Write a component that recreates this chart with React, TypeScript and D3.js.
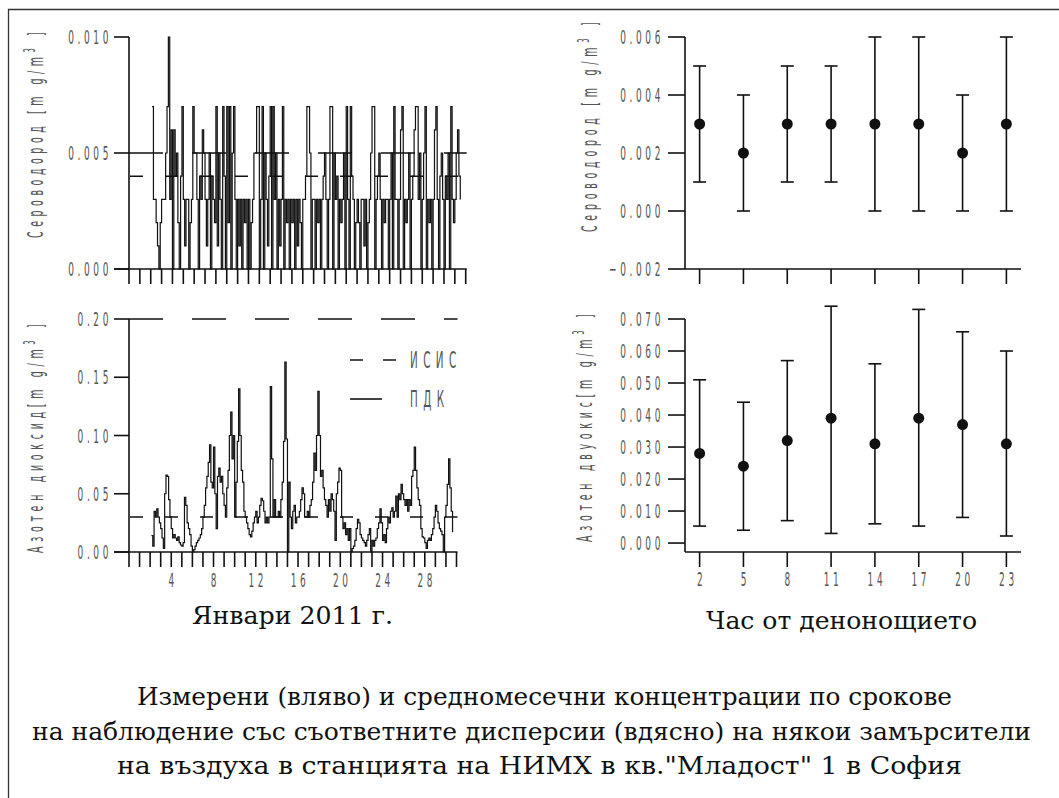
import React from 'react';
import * as d3 from 'd3';

// H2S and NO2, January 2011, 8 readings per day (every 3 h), first reading at day 2.125
const seriesStart = 2.125;
const seriesStep = 0.125;

const h2sValues = [
  0.007, 0.003, 0.003, 0.002, 0.001, 0.000, 0.002,
  0.003, 0.003, 0.003, 0.005, 0.007, 0.010, 0.003, 0.006,
  0.000, 0.006, 0.004, 0.005, 0.002, 0.000, 0.004, 0.007,
  0.003, 0.001, 0.003, 0.003, 0.000, 0.002, 0.003, 0.007,
  0.005, 0.005, 0.003, 0.000, 0.004, 0.003, 0.006, 0.005,
  0.003, 0.001, 0.003, 0.005, 0.000, 0.004, 0.003, 0.002,
  0.007, 0.001, 0.005, 0.003, 0.000, 0.007, 0.004, 0.000,
  0.007, 0.002, 0.007, 0.000, 0.005, 0.007, 0.003, 0.000,
  0.003, 0.001, 0.003, 0.000, 0.003, 0.002, 0.003, 0.000,
  0.003, 0.000, 0.002, 0.003, 0.005, 0.005, 0.007, 0.007,
  0.000, 0.003, 0.007, 0.000, 0.005, 0.003, 0.001, 0.004,
  0.007, 0.000, 0.007, 0.003, 0.005, 0.000, 0.003, 0.001,
  0.003, 0.007, 0.000, 0.003, 0.002, 0.003, 0.000, 0.003,
  0.002, 0.003, 0.000, 0.003, 0.001, 0.003, 0.002, 0.000,
  0.003, 0.003, 0.004, 0.007, 0.007, 0.005, 0.000, 0.003,
  0.003, 0.000, 0.003, 0.002, 0.003, 0.000, 0.003, 0.004,
  0.005, 0.003, 0.000, 0.003, 0.007, 0.007, 0.000, 0.005,
  0.003, 0.004, 0.000, 0.003, 0.002, 0.003, 0.005, 0.000,
  0.007, 0.003, 0.000, 0.007, 0.004, 0.003, 0.000, 0.002,
  0.003, 0.002, 0.000, 0.003, 0.003, 0.001, 0.003, 0.000,
  0.002, 0.003, 0.005, 0.007, 0.007, 0.000, 0.003, 0.004,
  0.005, 0.003, 0.000, 0.003, 0.002, 0.003, 0.003, 0.000,
  0.003, 0.005, 0.000, 0.007, 0.003, 0.003, 0.000, 0.003,
  0.006, 0.007, 0.000, 0.003, 0.002, 0.003, 0.005, 0.000,
  0.003, 0.004, 0.006, 0.007, 0.007, 0.003, 0.005, 0.000,
  0.003, 0.005, 0.007, 0.000, 0.003, 0.002, 0.003, 0.000,
  0.003, 0.006, 0.007, 0.003, 0.000, 0.004, 0.005, 0.003,
  0.000, 0.004, 0.003, 0.005, 0.000, 0.007, 0.003, 0.002,
  0.003, 0.005, 0.006, 0.004, 0.003,
];

const no2Values = [
  0.014, 0.005, 0.035, 0.030, 0.037, 0.030, 0.025,
  0.020, 0.012, 0.003, 0.050, 0.066, 0.065, 0.045, 0.030,
  0.020, 0.012, 0.015, 0.012, 0.010, 0.013, 0.008, 0.006,
  0.005, 0.008, 0.047, 0.040, 0.025, 0.020, 0.015, 0.005,
  0.000, 0.002, 0.005, 0.008, 0.010, 0.012, 0.015, 0.020,
  0.030, 0.040, 0.055, 0.065, 0.077, 0.092, 0.060, 0.055,
  0.090, 0.050, 0.020, 0.065, 0.072, 0.060, 0.065, 0.050,
  0.040, 0.030, 0.055, 0.070, 0.100, 0.120, 0.080, 0.100,
  0.030, 0.060, 0.095, 0.140, 0.100, 0.070, 0.060, 0.035,
  0.030, 0.025, 0.020, 0.015, 0.013, 0.018, 0.025, 0.030,
  0.035, 0.025, 0.030, 0.040, 0.046, 0.044, 0.035, 0.025,
  0.030, 0.025, 0.030, 0.142, 0.080, 0.030, 0.045, 0.030,
  0.030, 0.035, 0.030, 0.045, 0.060, 0.095, 0.163, 0.097,
  0.000, 0.060, 0.030, 0.020, 0.035, 0.040, 0.025, 0.030,
  0.030, 0.035, 0.045, 0.055, 0.050, 0.030, 0.030, 0.035,
  0.030, 0.040, 0.045, 0.060, 0.085, 0.070, 0.100, 0.138,
  0.100, 0.065, 0.070, 0.055, 0.045, 0.040, 0.030, 0.045,
  0.035, 0.050, 0.045, 0.035, 0.010, 0.050, 0.060, 0.072,
  0.070, 0.030, 0.020, 0.025, 0.015, 0.020, 0.010, 0.020,
  0.000, 0.003, 0.005, 0.010, 0.020, 0.028, 0.025, 0.015,
  0.012, 0.010, 0.008, 0.005, 0.010, 0.015, 0.020, 0.000,
  0.010, 0.005, 0.010, 0.012, 0.020, 0.025, 0.037, 0.025,
  0.010, 0.015, 0.008, 0.020, 0.030, 0.025, 0.035, 0.038,
  0.030, 0.035, 0.048, 0.030, 0.050, 0.045, 0.058, 0.050,
  0.045, 0.040, 0.045, 0.035, 0.045, 0.040, 0.065, 0.070,
  0.090, 0.070, 0.055, 0.045, 0.040, 0.020, 0.013, 0.012,
  0.008, 0.003, 0.010, 0.012, 0.010, 0.015, 0.020, 0.030,
  0.040, 0.035, 0.025, 0.020, 0.018, 0.015, 0.000, 0.030,
  0.040, 0.058, 0.080, 0.055, 0.035, 0.017,
];

// limit values: ПДК and ИСИС
const h2sPdk = 0.005;
const h2sIsis = 0.004;
const no2Pdk = 0.2;
const no2Isis = 0.03;

// monthly means by observation hour, with the spread
const hours = [2, 5, 8, 11, 14, 17, 20, 23];
const h2sMean = [0.003, 0.002, 0.003, 0.003, 0.003, 0.003, 0.002, 0.003];
const h2sLow = [0.001, 0.0, 0.001, 0.001, 0.0, 0.0, 0.0, 0.0];
const h2sHigh = [0.005, 0.004, 0.005, 0.005, 0.006, 0.006, 0.004, 0.006];
const no2Mean = [0.028, 0.024, 0.032, 0.039, 0.031, 0.039, 0.037, 0.031];
const no2Low = [0.0053, 0.004, 0.007, 0.003, 0.006, 0.0053, 0.008, 0.0022];
const no2High = [0.051, 0.044, 0.057, 0.074, 0.056, 0.073, 0.066, 0.06];

const dayTicks = d3.range(0, 32);
const dayLabels = [4, 8, 12, 16, 20, 24, 28];
const h2sTicks = [0, 0.005, 0.01];
const no2Ticks = [0, 0.05, 0.1, 0.15, 0.2];
const h2sHourTicks = [-0.002, 0, 0.002, 0.004, 0.006];
const no2HourTicks = [0, 0.01, 0.02, 0.03, 0.04, 0.05, 0.06, 0.07];

const captionLines = [
  'Измерени (вляво) и средномесечни концентрации по срокове',
  'на наблюдение със съответните дисперсии (вдясно) на някои замърсители',
  'на въздуха в станцията на НИМХ в кв."Младост" 1 в София',
];

const INK = '#111';

function NText(props: any) {
  const { x, y, anchor = 'end', rotate = false, size = 20, spacing = 8, length, children } = props;
  const t = `translate(${x},${y})${rotate ? ' rotate(-90)' : ''} scale(0.45,1)`;
  return (
    <text
      transform={t}
      textAnchor={anchor}
      fontFamily="DejaVu Sans"
      fontSize={size}
      letterSpacing={spacing}
      fill="#555"
      textLength={length}
      lengthAdjust={length ? 'spacing' : undefined}
    >
      {children}
    </text>
  );
}

function YLabel({ x, y, len, text }: any) {
  return (
    <NText x={x} y={y} anchor="start" rotate size={21} spacing={5} length={len / 0.45}>
      {text}
      <tspan dy={-8} fontSize={15}>3</tspan>
      <tspan dy={8}> ]</tspan>
    </NText>
  );
}

function ErrorPanel({ y, yTicks, fmt, mean, low, high, yBottom, showLabels }: any) {
  const x = d3.scaleLinear().domain([1, 24]).range([685, 1021]);
  const y0 = yBottom;
  const yTop = y(yTicks[yTicks.length - 1]);
  return (
    <g>
      <line x1={685} x2={685} y1={yTop} y2={y0} stroke={INK} strokeWidth={1.6} />
      <line x1={685} x2={1021} y1={y0} y2={y0} stroke={INK} strokeWidth={1.6} />
      {yTicks.map((t: number) => (
        <g key={t}>
          <line x1={668} x2={685} y1={y(t)} y2={y(t)} stroke={INK} strokeWidth={1.6} />
          <NText x={664} y={y(t) + 7}>{fmt(t)}</NText>
        </g>
      ))}
      {hours.map((h, i) => (
        <g key={h}>
          <line x1={x(h)} x2={x(h)} y1={y0} y2={y0 + 15} stroke={INK} strokeWidth={1.6} />
          {showLabels && <NText x={x(h) + 2} y={y0 + 34} anchor="middle">{h}</NText>}
          <line x1={x(h)} x2={x(h)} y1={y(low[i])} y2={y(high[i])} stroke={INK} strokeWidth={1.6} />
          <line x1={x(h) - 6.5} x2={x(h) + 6.5} y1={y(low[i])} y2={y(low[i])} stroke={INK} strokeWidth={1.6} />
          <line x1={x(h) - 6.5} x2={x(h) + 6.5} y1={y(high[i])} y2={y(high[i])} stroke={INK} strokeWidth={1.6} />
          <circle cx={x(h)} cy={y(mean[i])} r={5.5} fill={INK} />
        </g>
      ))}
    </g>
  );
}

export default function App() {
  // left column: measured series
  const xTop = d3.scaleLinear().domain([0, 31]).range([129, 465.7]);
  const yTop = d3.scaleLinear().domain([0, 0.01]).range([269, 37]);
  const xBot = d3.scaleLinear().domain([0, 31]).range([129, 456.5]);
  const yBot = d3.scaleLinear().domain([0, 0.2]).range([552, 319]);
  // right column: hourly means
  const yH2s = d3.scaleLinear().domain([-0.002, 0.006]).range([269, 37]);
  const yNo2 = d3.scaleLinear().domain([-0.0028, 0.07]).range([552, 319]);

  const stepLine = (xs: any, ys: any) =>
    d3.line<number>()
      .x((_, i) => xs(seriesStart + i * seriesStep))
      .y((v) => ys(v))
      .curve(d3.curveStepAfter);

  const f3 = d3.format('.3f');
  const f2 = d3.format('.2f');

  const leftPanel = (xs: any, ys: any, ticks: number[], fmt: any, vals: number[], pdk: number, isis: number, labels: boolean) => {
    const y0 = ys(0);
    return (
      <g>
        <path d={stepLine(xs, ys)(vals) || ''} fill="none" stroke={INK} strokeWidth={1.2} />
        <line x1={129} x2={xs(31) + 1} y1={ys(pdk)} y2={ys(pdk)} stroke={INK} strokeWidth={1.6} strokeDasharray="34,29" />
        <line x1={130} x2={xs(31) + 1} y1={ys(isis)} y2={ys(isis)} stroke={INK} strokeWidth={1.6} strokeDasharray="13,22" />
        <line x1={129} x2={129} y1={ys(ticks[ticks.length - 1])} y2={y0} stroke={INK} strokeWidth={1.6} />
        <line x1={114} x2={xs(31) + 1} y1={y0} y2={y0} stroke={INK} strokeWidth={1.6} />
        {ticks.map((t) => (
          <g key={t}>
            <line x1={114} x2={129} y1={ys(t)} y2={ys(t)} stroke={INK} strokeWidth={1.6} />
            <NText x={112} y={ys(t) + 7}>{fmt(t)}</NText>
          </g>
        ))}
        {dayTicks.map((d) => (
          <line key={d} x1={xs(d)} x2={xs(d)} y1={y0} y2={y0 + 15} stroke={INK} strokeWidth={1.6} />
        ))}
        {labels && dayLabels.map((d) => (
          <NText key={d} x={xs(d) + 2} y={y0 + 35} anchor="middle">{d}</NText>
        ))}
      </g>
    );
  };

  const captionLayout = [
    { x: 137, y: 705, len: 815 },
    { x: 32, y: 740, len: 999 },
    { x: 117, y: 774, len: 845 },
  ];

  return (
    <svg width={1059} height={798} style={{ position: 'absolute', left: 0, top: 0 }}>
      <rect x={0} y={0} width={1059} height={798} fill="#fff" />
      <path d="M8.5,798 L8.5,9.5 L1059,9.5" fill="none" stroke="#333" strokeWidth={1.3} />

      {leftPanel(xTop, yTop, h2sTicks, f3, h2sValues, h2sPdk, h2sIsis, false)}
      {leftPanel(xBot, yBot, no2Ticks, f2, no2Values, no2Pdk, no2Isis, true)}

      <YLabel x={43} y={238} len={208} text="Сероводород [m g/m" />
      <YLabel x={43} y={553} len={231} text="Азотен диоксид[m g/m" />

      {/* legend */}
      <line x1={350} x2={397} y1={360} y2={360} stroke={INK} strokeWidth={1.6} strokeDasharray="13,20" />
      <NText x={410} y={368} anchor="start" size={23} spacing={12}>ИСИС</NText>
      <line x1={350} x2={382} y1={399} y2={399} stroke={INK} strokeWidth={1.6} />
      <NText x={410} y={407} anchor="start" size={23} spacing={12}>ПДК</NText>

      <ErrorPanel y={yH2s} yTicks={h2sHourTicks} fmt={f3} mean={h2sMean} low={h2sLow} high={h2sHigh} yBottom={269} showLabels={false} />
      <ErrorPanel y={yNo2} yTicks={no2HourTicks} fmt={f3} mean={no2Mean} low={no2Low} high={no2High} yBottom={552} showLabels />

      <YLabel x={597} y={232} len={212} text="Сероводород [m g/m" />
      <YLabel x={592} y={542} len={230} text="Азотен двуокис[m g/m" />

      <text x={192} y={624} fontFamily="DejaVu Serif" fontSize={24} fill={INK} textLength={201} lengthAdjust="spacingAndGlyphs">
        Январи 2011 г.
      </text>
      <text x={706} y={629} fontFamily="DejaVu Serif" fontSize={24} fill={INK} textLength={271} lengthAdjust="spacingAndGlyphs">
        Час от денонощието
      </text>

      {captionLines.map((s, i) => (
        <text key={i} x={captionLayout[i].x} y={captionLayout[i].y} fontFamily="DejaVu Serif" fontSize={24} fill={INK}
          textLength={captionLayout[i].len} lengthAdjust="spacingAndGlyphs">
          {s}
        </text>
      ))}
    </svg>
  );
}
